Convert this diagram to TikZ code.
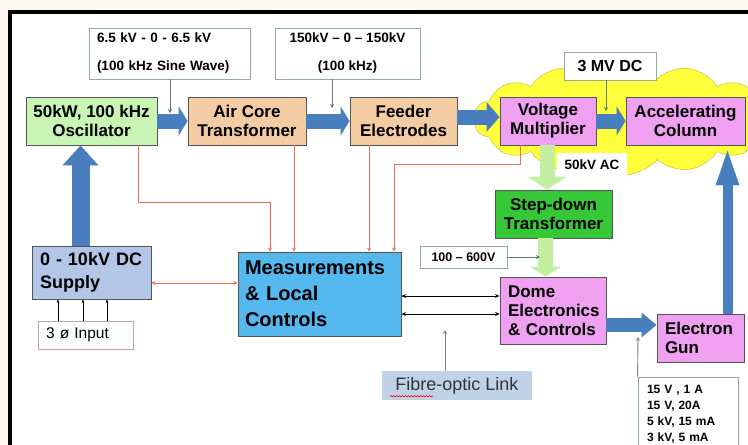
\documentclass[tikz,border=0pt]{standalone}
\usepackage{fontspec}
\setmainfont{Liberation Sans}
\usetikzlibrary{arrows.meta}
\usetikzlibrary{shapes.symbols}
\usetikzlibrary{decorations.pathmorphing}

\definecolor{oscgreen}{RGB}{200,245,180}
\definecolor{tanbox}{RGB}{244,204,164}
\definecolor{violetbox}{RGB}{240,160,240}
\definecolor{stepgreen}{RGB}{55,200,55}
\definecolor{measblue}{RGB}{85,185,240}
\definecolor{supplyblue}{RGB}{180,198,231}
\definecolor{fatblue}{RGB}{72,125,190}
\definecolor{fatgreen}{RGB}{196,238,160}
\definecolor{cloudyellow}{RGB}{255,255,60}
\definecolor{cloudedge}{RGB}{190,180,60}
\definecolor{wirered}{RGB}{238,112,82}
\definecolor{pointgreen}{RGB}{95,125,105}
\definecolor{labelgreen}{RGB}{140,175,150}
\definecolor{phaseedge}{RGB}{195,165,165}
\definecolor{fibreblue}{RGB}{192,210,232}
\definecolor{cream}{RGB}{255,248,238}
\definecolor{edge}{RGB}{85,85,85}

\tikzset{
    box/.style={
        draw=edge, line width=0.9pt, align=center, inner sep=0pt,
        font=\fontsize{17}{19}\selectfont\bfseries
    },
    labelbox/.style={
        draw=labelgreen, line width=0.9pt, fill=white, inner sep=0pt,
        font=\fontsize{13.5}{28}\selectfont\bfseries
    },
    bigarrow/.style={
        draw=fatblue, line width=15pt,
        -{Triangle[length=9pt, width=29pt]}
    },
    greenarrow/.style={
        draw=fatgreen, line width=15pt,
        -{Triangle[length=13pt, width=39pt]}
    },
    redarrow/.style={
        draw=wirered, line width=0.9pt,
        -{Stealth[length=4pt, width=4pt]}
    },
    blackarrow/.style={
        line width=0.9pt,
        {Stealth[length=4.5pt, width=4pt]}-{Stealth[length=4.5pt, width=4pt]}
    },
    pointer/.style={
        draw=pointgreen, line width=0.9pt,
        -{Stealth[length=4pt, width=4pt]}
    }
}

\begin{document}
\begin{tikzpicture}[x=1pt,y=-1pt]
    \useasboundingbox (0,0) rectangle (748,445);
    \clip (0,0) rectangle (748,445);

    % frame
    \fill[cream] (0,0) rectangle (748,445);
    \draw[line width=4pt, fill=white] (9.5,12) rectangle (770,470);

    % cloud
    \node[cloud, cloud puffs=14, cloud puff arc=100, aspect=2.7, draw=cloudedge, fill=cloudyellow,
        minimum width=300pt, minimum height=112pt, inner sep=0pt] (cloud) at (624,119) {};

    % labels
    \node[labelbox, minimum width=161pt, minimum height=51pt, text width=145pt, align=left] (sine) at (169.5,53.5) {6.5 kV - 0 - 6.5 kV\\(100 kHz Sine Wave)};
    \node[labelbox, minimum width=145pt, minimum height=51pt, align=center] (feedlab) at (347.5,53.5) {150kV – 0 – 150kV\\(100 kHz)};
    \node[labelbox, minimum width=92pt, minimum height=28pt, font=\fontsize{16}{19}\selectfont\bfseries] (mvdc) at (610,66) {3 MV DC};
    \node[fill=white, minimum width=70pt, minimum height=25pt, inner sep=0pt, font=\fontsize{13.5}{16}\selectfont\bfseries] (acv) at (592,165) {50kV AC};
    \node[labelbox, minimum width=87pt, minimum height=22pt, font=\fontsize{12.5}{15}\selectfont\bfseries] (lowv) at (463.5,257) {100 – 600V};
    \node[labelbox, minimum width=100pt, minimum height=74pt, text width=82pt, align=left, font=\fontsize{12}{16}\selectfont\bfseries] (gunv) at (688,414) {15 V , 1 A\\15 V, 20A\\5 kV, 15 mA\\3 kV, 5 mA};
    \node[fill=fibreblue, minimum width=150pt, minimum height=29pt, inner sep=0pt, text=black!80, font=\fontsize{18}{20}\selectfont] (fibre) at (457,385.5) {Fibre-optic Link};
    \node[draw=phaseedge, line width=0.9pt, fill=white, minimum width=95pt, minimum height=28pt, text width=79pt, align=left, inner sep=0pt, font=\fontsize{15.5}{18}\selectfont] (phase) at (85.5,335) {3 ø Input};

    % main blocks
    \node[box, fill=oscgreen, minimum width=131pt, minimum height=48pt] (osc) at (91.5,121) {50kW, 100 kHz\\Oscillator};
    \node[box, fill=tanbox, minimum width=118pt, minimum height=48pt] (air) at (247,121) {Air Core\\Transformer};
    \node[box, fill=tanbox, minimum width=107pt, minimum height=48pt] (feed) at (403.5,121) {Feeder\\Electrodes};
    \node[box, fill=violetbox, minimum width=96pt, minimum height=48pt] (vm) at (548,121) {Voltage\\Multiplier};
    \node[box, fill=violetbox, minimum width=119pt, minimum height=48pt] (acc) at (685.5,121) {Accelerating\\Column};
    \node[box, fill=stepgreen, minimum width=117pt, minimum height=48pt] (step) at (553.5,214) {Step-down\\Transformer};
    \node[box, fill=violetbox, minimum width=106pt, minimum height=67pt, text width=90pt, align=left] (dome) at (553,310.5) {Dome\\Electronics\\\& Controls};
    \node[box, fill=violetbox, minimum width=87pt, minimum height=48pt, text width=71pt, align=left] (gun) at (700.5,338) {Electron\\Gun};
    \node[box, fill=measblue, minimum width=163pt, minimum height=84pt, text width=149pt, align=left, font=\fontsize{20}{26}\selectfont\bfseries] (meas) at (319.5,294) {Measurements\\\& Local\\Controls};
    \node[box, fill=supplyblue, minimum width=119pt, minimum height=53pt, text width=103pt, align=left, font=\fontsize{18}{23}\selectfont\bfseries] (supply) at (91.5,272.5) {0 - 10kV DC\\Supply};

    % power path
    \draw[bigarrow] (osc) -- (air);
    \draw[bigarrow] (air) -- (feed);
    \coordinate (feedout) at ([yshift=4pt]feed.east);
    \draw[bigarrow, -{Triangle[length=13pt, width=29pt]}] (feedout) -- (feedout -| vm.west);
    \draw[bigarrow] (vm) -- (acc);
    \coordinate (supout) at ([xshift=-11pt]supply.north);
    \draw[bigarrow, line width=18pt, -{Triangle[length=20pt, width=35pt]}] (supout) -- (supout |- osc.south);
    \coordinate (gunout) at ([xshift=27pt]gun.north);
    \draw[bigarrow, line width=10pt, -{Triangle[length=40pt, width=20pt]}] (gunout) -- (gunout |- acc.south);
    \coordinate (domeout) at ([yshift=-14.5pt]dome.east);
    \draw[bigarrow, line width=14pt, -{Triangle[length=15pt, width=24pt]}] (domeout) -- (domeout -| gun.west);

    \coordinate (vmout) at ([xshift=-1pt]vm.south);
    \draw[greenarrow] (vmout) -- (vmout |- step.north);
    \coordinate (stepout) at ([xshift=-8pt]step.south);
    \draw[greenarrow, -{Triangle[length=10pt, width=31pt]}] (stepout) -- (stepout |- dome.north);

    % pointers
    \coordinate (sinetip) at (170,113);
    \draw[pointer] (sine.south -| sinetip) -- (sinetip);
    \coordinate (feedtip) at (332,108);
    \draw[pointer] (feedlab.south -| feedtip) -- (feedtip);
    \coordinate (mvtip) at (606,111);
    \draw[pointer] (mvdc.south -| mvtip) -- (mvtip);
    \coordinate (lowtip) at (540,257);
    \draw[pointer] (lowv) -- (lowtip);
    \coordinate (gunvtip) at (638,337);
    \draw[pointer, draw=gray] (gunv.north west) -- (gunvtip);
    \coordinate (fibretip) at (445,330);
    \draw[pointer, draw=gray] (fibre.north -| fibretip) -- (fibretip);

    % measurement wires
    \coordinate (oscm) at ([xshift=46.5pt]osc.south);
    \coordinate (measa) at ([xshift=-49.5pt]meas.north);
    \draw[redarrow] (oscm) -- ++(0,57) -| (measa);
    \coordinate (airm) at ([xshift=47pt]air.south);
    \draw[redarrow] (airm) -- (airm |- meas.north);
    \coordinate (feedm) at ([xshift=-34.5pt]feed.south);
    \draw[redarrow] (feedm) -- (feedm |- meas.north);
    \coordinate (vmm) at ([xshift=-28pt]vm.south);
    \coordinate (measd) at ([xshift=74.5pt]meas.north);
    \draw[redarrow] (vmm) -- ++(0,19) -| (measd);
    \coordinate (supm) at ([yshift=-10.5pt]supply.east);
    \draw[redarrow, {Stealth[length=4pt, width=4pt]}-{Stealth[length=4pt, width=4pt]}] (supm) -- (supm -| meas.west);

    % fibre links
    \foreach \dy in {-2,-20} {
        \coordinate (link) at ([yshift=\dy pt]meas.east);
        \draw[blackarrow] (link) -- (link -| dome.west);
    }

    % 3 phase
    \foreach \dx in {-27.5,-2.5,21.5} {
        \coordinate (ph) at ([xshift=\dx pt]phase.north);
        \draw[line width=0.9pt, -{Latex[length=3pt, width=3pt]}] (ph) -- (ph |- supply.south);
    }

    % spell mark
    \draw[red, line width=0.6pt, decorate, decoration={snake, amplitude=0.7pt, segment length=3pt}]
        ([shift={(8pt,4pt)}]fibre.south west) -- ++(43,0);
\end{tikzpicture}
\end{document}
